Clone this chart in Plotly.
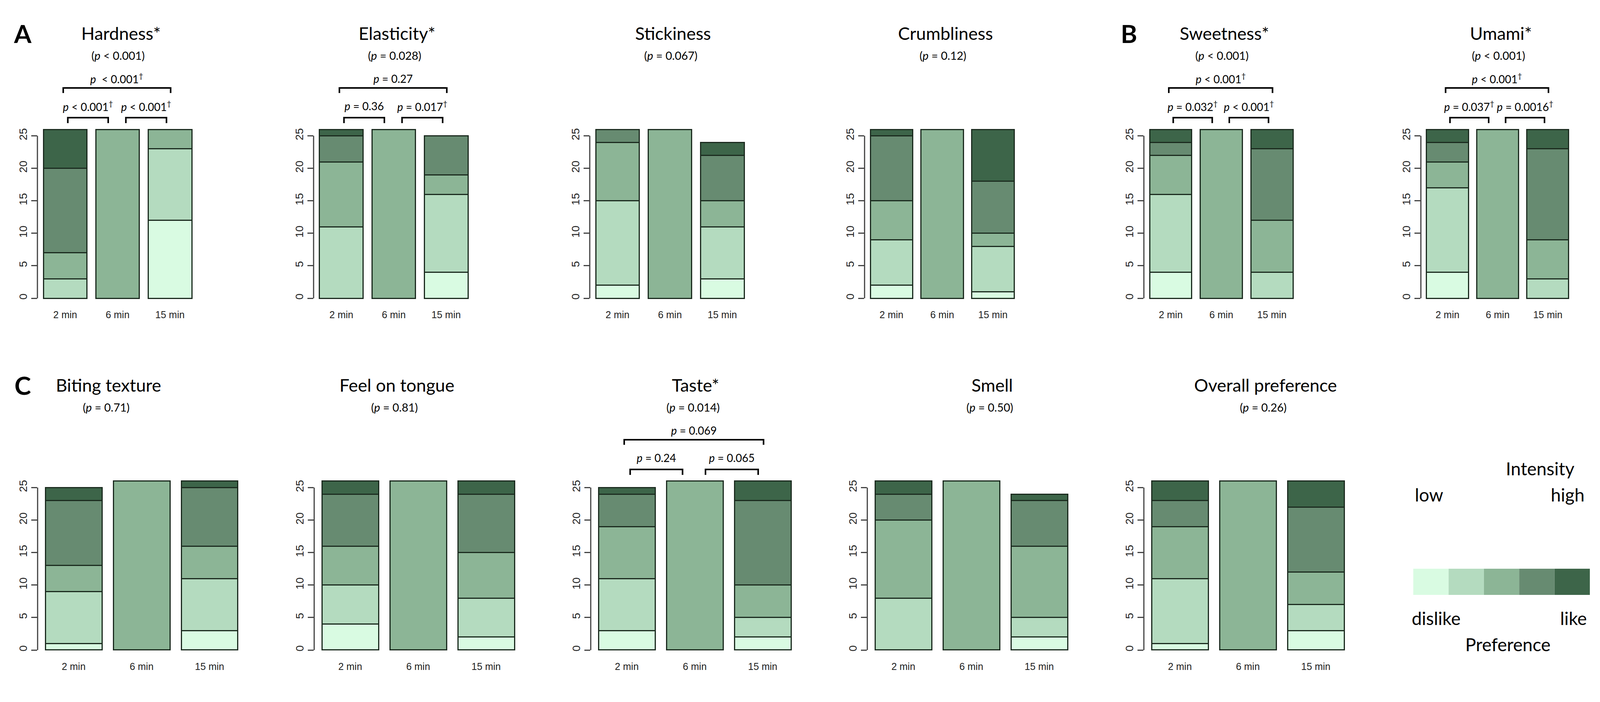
import plotly.graph_objects as go

W, H = 4229, 1796

# ---------------- data ----------------
times = ["2 min", "6 min", "15 min"]
level_colors = ["#d9fbe2", "#b4dbbf", "#8cb596", "#678b71", "#3d6549"]  # level 1 (low/dislike) -> 5 (high/like)
y_ticks = [0, 5, 10, 15, 20, 25]

# counts per level (1..5) for each time
hardness_2min = [0, 3, 4, 13, 6]
hardness_6min = [0, 0, 26, 0, 0]
hardness_15min = [12, 11, 3, 0, 0]

elasticity_2min = [0, 11, 10, 4, 1]
elasticity_6min = [0, 0, 26, 0, 0]
elasticity_15min = [4, 12, 3, 6, 0]

stickiness_2min = [2, 13, 9, 2, 0]
stickiness_6min = [0, 0, 26, 0, 0]
stickiness_15min = [3, 8, 4, 7, 2]

crumbliness_2min = [2, 7, 6, 10, 1]
crumbliness_6min = [0, 0, 26, 0, 0]
crumbliness_15min = [1, 7, 2, 8, 8]

sweetness_2min = [4, 12, 6, 2, 2]
sweetness_6min = [0, 0, 26, 0, 0]
sweetness_15min = [0, 4, 8, 11, 3]

umami_2min = [4, 13, 4, 3, 2]
umami_6min = [0, 0, 26, 0, 0]
umami_15min = [0, 3, 6, 14, 3]

biting_2min = [1, 8, 4, 10, 2]
biting_6min = [0, 0, 26, 0, 0]
biting_15min = [3, 8, 5, 9, 1]

feel_2min = [4, 6, 6, 8, 2]
feel_6min = [0, 0, 26, 0, 0]
feel_15min = [2, 6, 7, 9, 2]

taste_2min = [3, 8, 8, 5, 1]
taste_6min = [0, 0, 26, 0, 0]
taste_15min = [2, 3, 5, 13, 3]

smell_2min = [0, 8, 12, 4, 2]
smell_6min = [0, 0, 26, 0, 0]
smell_15min = [2, 3, 11, 7, 1]

overall_2min = [1, 10, 8, 4, 3]
overall_6min = [0, 0, 26, 0, 0]
overall_15min = [3, 4, 5, 10, 4]

P = "<i>p</i>"
D = "<sup>†</sup>"
panels = [
    dict(title="Hardness*", sub=f"({P} &lt; 0.001)",
         counts=[hardness_2min, hardness_6min, hardness_15min],
         pairs=[f"{P}\u00a0\u00a0&lt; 0.001{D}", f"{P} &lt; 0.001{D}", f"{P} &lt; 0.001{D}"]),
    dict(title="Elasticity*", sub=f"({P} = 0.028)",
         counts=[elasticity_2min, elasticity_6min, elasticity_15min],
         pairs=[f"{P} = 0.27", f"{P} = 0.36", f"{P} = 0.017{D}"]),
    dict(title="Stickiness", sub=f"({P} = 0.067)",
         counts=[stickiness_2min, stickiness_6min, stickiness_15min], pairs=None),
    dict(title="Crumbliness", sub=f"({P} = 0.12)",
         counts=[crumbliness_2min, crumbliness_6min, crumbliness_15min], pairs=None),
    dict(title="Sweetness*", sub=f"({P} &lt; 0.001)",
         counts=[sweetness_2min, sweetness_6min, sweetness_15min],
         pairs=[f"{P} &lt; 0.001{D}", f"{P} = 0.032{D}", f"{P} &lt; 0.001{D}"]),
    dict(title="Umami*", sub=f"({P} &lt; 0.001)",
         counts=[umami_2min, umami_6min, umami_15min],
         pairs=[f"{P} &lt; 0.001{D}", f"{P} = 0.037{D}", f"{P} = 0.0016{D}"]),
    dict(title="Biting texture", sub=f"({P} = 0.71)",
         counts=[biting_2min, biting_6min, biting_15min], pairs=None),
    dict(title="Feel on tongue", sub=f"({P} = 0.81)",
         counts=[feel_2min, feel_6min, feel_15min], pairs=None),
    dict(title="Taste*", sub=f"({P} = 0.014)",
         counts=[taste_2min, taste_6min, taste_15min],
         pairs=[f"{P} = 0.069", f"{P} = 0.24", f"{P} = 0.065"]),
    dict(title="Smell", sub=f"({P} = 0.50)",
         counts=[smell_2min, smell_6min, smell_15min], pairs=None),
    dict(title="Overall preference", sub=f"({P} = 0.26)",
         counts=[overall_2min, overall_6min, overall_15min], pairs=None),
]

# ---------------- layout geometry (pixels) ----------------
spans = [(103, 483), (810, 1190), (1517, 1897), (2220, 2588), (2935, 3302), (3644, 4008),
         (108, 601), (816, 1309), (1524, 2017), (2232, 2725), (2940, 3433)]
title_x = [None, None, None, None, None, None, 270, 1008, 1772, 2532, 3232]
rows_of = [1, 1, 1, 1, 1, 1, 2, 2, 2, 2, 2]
rows_px = {1: (755, 323), 2: (1655, 1223)}  # pixel y of value 0 and 26
title_y = {1: 77, 2: 977}

XMIN, XMAX = 0.064, 3.736
YMIN, YMAX = -1.04, 27.04
centers = [0.7, 1.9, 3.1]
EDGE = "#1b2b1f"
TXT_FONT = "Lato, 'Open Sans', sans-serif"
TICK_FONT = "'Liberation Sans', Arial, sans-serif"


def fx(px):
    return px / W


def fy(py):
    return 1 - py / H


fig = go.Figure()
layout = dict(width=W, height=H, margin=dict(l=0, r=0, t=0, b=0),
              paper_bgcolor="white", plot_bgcolor="white", barmode="stack",
              showlegend=False)
shapes = []
annotations = []

for i, p in enumerate(panels):
    n = i + 1
    sfx = "" if n == 1 else str(n)
    xa, ya = "x" + sfx, "y" + sfx
    bs, be = spans[i]
    u = (be - bs) / 3.4
    left = bs - 0.136 * u
    right = be + 0.136 * u
    row = rows_of[i]
    y0, y26 = rows_px[row]
    k = (y0 - y26) / 26.0
    bottom = y0 + 1.04 * k
    top = y26 - 1.04 * k
    ty = title_y[row]

    def dx(v):
        return left + (v - XMIN) / (XMAX - XMIN) * (right - left)

    for j in range(5):
        fig.add_trace(go.Bar(
            x=centers, y=[c[j] for c in p["counts"]], width=1,
            marker=dict(color=level_colors[j], line=dict(color=EDGE, width=3)),
            xaxis=xa, yaxis=ya, hoverinfo="skip", showlegend=False))

    layout["xaxis" + sfx] = dict(
        domain=[fx(left), fx(right)], range=[XMIN, XMAX], anchor=ya,
        tickmode="array", tickvals=centers, ticktext=times, ticks="",
        showline=False, showgrid=False, zeroline=False, fixedrange=True,
        tickfont=dict(family=TICK_FONT, size=25, color="#222"), ticklabelstandoff=8)
    layout["yaxis" + sfx] = dict(
        domain=[fy(bottom), fy(top)], range=[YMIN, YMAX], anchor=xa,
        tickmode="array", tickvals=y_ticks, ticks="outside", ticklen=15,
        tickwidth=3, tickcolor="#444", tickangle=-90,
        showline=False, showgrid=False, zeroline=False, fixedrange=True,
        tickfont=dict(family=TICK_FONT, size=28, color="#222"))

    # R style axis line from first to last tick
    shapes.append(dict(type="line", xref="paper", yref="paper",
                       x0=fx(left), x1=fx(left), y0=fy(y0), y1=fy(y0 - 25 * k),
                       line=dict(color="#444", width=3)))

    cx = title_x[i] if title_x[i] is not None else (left + right) / 2 + 8
    annotations.append(dict(text=p["title"], x=fx(cx), y=fy(ty), xref="paper", yref="paper",
                            showarrow=False, xanchor="center", yanchor="middle",
                            font=dict(family=TXT_FONT, size=45, color="black")))
    annotations.append(dict(text=p["sub"], x=fx(cx - 6), y=fy(ty + 56), xref="paper", yref="paper",
                            showarrow=False, xanchor="center", yanchor="middle",
                            font=dict(family=TXT_FONT, size=29, color="black")))

    if p["pairs"]:
        brackets = [((0.655, 3.115), ty + 140, ty + 153, ty + 116),
                    ((0.76, 1.685), ty + 216, ty + 230, ty + 186),
                    ((2.09, 3.02), ty + 216, ty + 230, ty + 186)]
        for (a, b), yh, yl, ylab in brackets:
            xa_px, xb_px = dx(a), dx(b)
            path = (f"M {fx(xa_px)},{fy(yl)} L {fx(xa_px)},{fy(yh)} "
                    f"L {fx(xb_px)},{fy(yh)} L {fx(xb_px)},{fy(yl)}")
            shapes.append(dict(type="path", xref="paper", yref="paper", path=path,
                               line=dict(color="black", width=4)))
        labs = p["pairs"]
        for (ab, yh, yl, ylab), lab in zip(brackets, labs):
            mid = (dx(ab[0]) + dx(ab[1])) / 2
            annotations.append(dict(text=lab, x=fx(mid), y=fy(ylab), xref="paper", yref="paper",
                                    showarrow=False, xanchor="center", yanchor="middle",
                                    font=dict(family=TXT_FONT, size=28, color="black")))

# panel letters
for letter, (lx, ly) in zip(["A", "B", "C"], [(50, 77), (2882, 77), (50, 977)]):
    annotations.append(dict(text=f"<b>{letter}</b>", x=fx(lx), y=fy(ly), xref="paper", yref="paper",
                            showarrow=False, xanchor="center", yanchor="middle",
                            font=dict(family=TXT_FONT, size=64, color="black")))

# intensity / preference colour key
key_left, key_right, key_top, key_bot = 3610, 4062, 1447, 1514
bw = (key_right - key_left) / len(level_colors)
for j, col in enumerate(level_colors):
    shapes.append(dict(type="rect", xref="paper", yref="paper",
                       x0=fx(key_left + j * bw), x1=fx(key_left + (j + 1) * bw),
                       y0=fy(key_bot), y1=fy(key_top), fillcolor=col, line=dict(width=0)))
key_texts = [("Intensity", 3935, 1190), ("low", 3650, 1257), ("high", 4005, 1257),
             ("dislike", 3668, 1573), ("like", 4020, 1573), ("Preference", 3852, 1640)]
for t, tx, ty in key_texts:
    annotations.append(dict(text=t, x=fx(tx), y=fy(ty), xref="paper", yref="paper",
                            showarrow=False, xanchor="center", yanchor="middle",
                            font=dict(family=TXT_FONT, size=46, color="black")))

layout["shapes"] = shapes
layout["annotations"] = annotations
fig.update_layout(**layout)
fig.write_html("out.html")
